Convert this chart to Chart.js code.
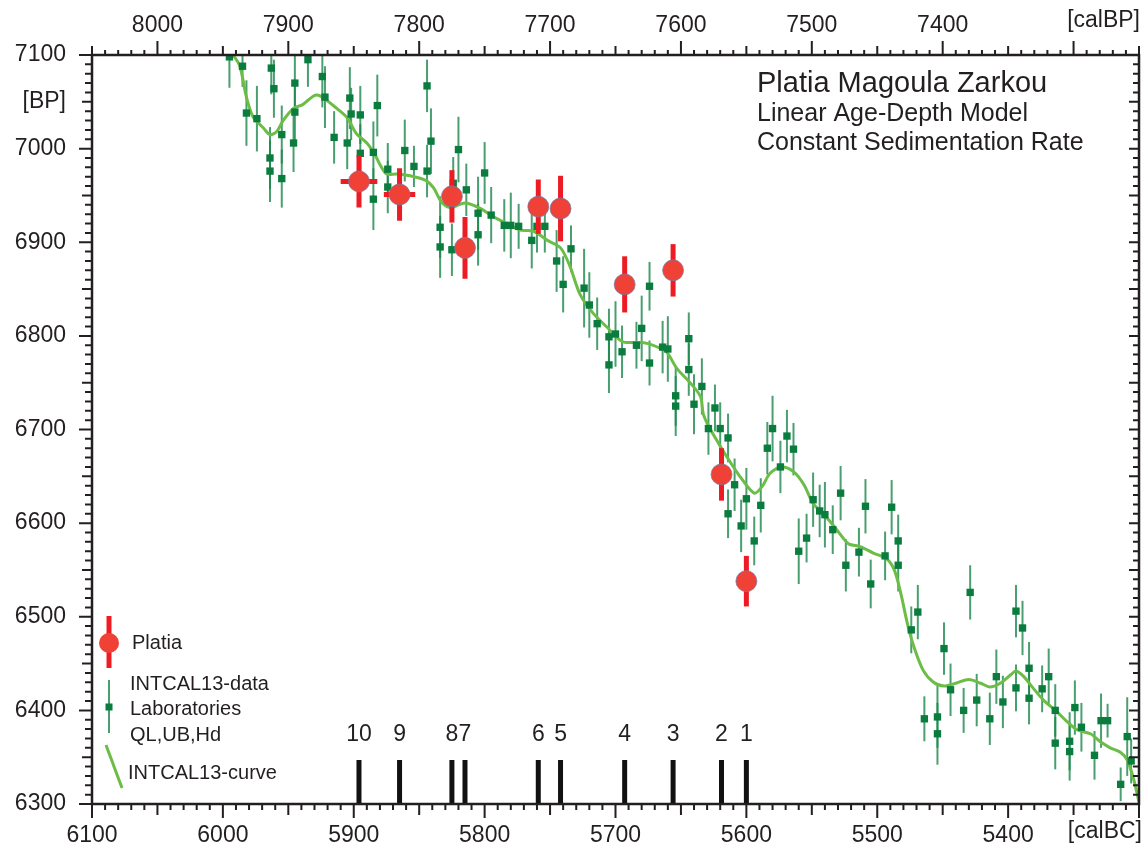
<!DOCTYPE html>
<html>
<head>
<meta charset="utf-8">
<script src="https://cdn.jsdelivr.net/npm/chart.js@4.4.0/dist/chart.umd.min.js"></script>
<style>
html, body { margin: 0; padding: 0; background: #fff; }
</style>
</head>
<body>
<canvas id="chart" width="1146" height="848"></canvas>
<script>
'use strict';

// INTCAL13 laboratory data: calBC, BP, error (BP)
const labYear = [
    5995,5985,5982,5974,5963,5961,5964,5964,5955,5955,
    5945,5945,5946,5935,5924,5922,5915,5903,5902,5905,
    5895,5895,5882,5885,5885,5874,5874,5861,5854,5844,
    5844,5841,5820,5824,5814,5834,5834,5825,5800,5805,
    5805,5795,5785,5780,5774,5764,5760,5754,5745,5740,
    5734,5724,5720,5714,5705,5700,5705,5695,5684,5680,
    5674,5674,5664,5660,5644,5644,5654,5654,5640,5634,
    5624,5629,5620,5614,5609,5614,5604,5600,5594,5589,
    5584,5580,5574,5569,5564,5560,5554,5549,5544,5540,
    5534,5528,5524,5514,5509,5505,5494,5489,5484,5484,
    5474,5469,5449,5429,5444,5464,5454,5454,5434,5424,
    5414,5409,5404,5394,5389,5384,5384,5394,5374,5369,
    5364,5364,5353,5353,5349,5344,5334,5329,5324,5314,
    5309,5306
];
const labBP = [
    7098,7088,7038,7032,7086,7064,6990,6976,7015,6968,
    7070,7039,7006,7095,7077,7055,7012,7054,7037,7006,
    7036,6995,7046,6996,6946,6978,6959,6998,6981,6976,
    7067,7008,6999,6963,6956,6916,6895,6892,6974,6931,
    6908,6929,6918,6918,6917,6902,6917,6917,6880,6855,
    6893,6851,6833,6813,6799,6802,6769,6783,6790,6808,
    6853,6771,6788,6786,6797,6764,6736,6725,6727,6746,
    6723,6701,6701,6691,6641,6610,6597,6626,6581,6619,
    6680,6701,6660,6693,6679,6570,6584,6625,6613,6609,
    6593,6632,6555,6569,6618,6535,6565,6617,6581,6555,
    6486,6505,6466,6526,6422,6391,6393,6375,6400,6411,
    6391,6436,6409,6506,6488,6445,6413,6424,6423,6436,
    6400,6365,6367,6356,6403,6382,6352,6389,6389,6321,
    6372,6346
];
const labErr = [
    33,22,35,35,28,31,33,33,31,31,
    31,31,31,29,33,33,28,33,28,28,
    31,31,33,33,33,28,28,33,22,28,
    28,35,35,28,28,33,33,28,33,39,
    33,30,28,35,24,30,28,28,33,30,
    25,42,35,28,30,35,30,28,25,35,
    26,24,28,35,28,28,32,32,32,30,
    25,28,28,26,28,26,28,33,26,29,
    28,35,28,28,28,35,26,29,28,35,
    26,29,28,26,29,26,26,29,28,28,
    25,29,28,29,28,24,33,33,24,28,
    28,29,28,28,29,28,28,25,25,30,
    28,28,31,31,29,26,26,29,18,18,
    42,24
];

// INTCAL13 curve
const curveYear = [
    5992,5987,5982,5977,5969,5964,5959,5954,5946,5939,
    5931,5927,5921,5913,5905,5898,5890,5884,5880,5875,
    5867,5857,5845,5839,5833,5826,5820,5814,5803,5793,
    5783,5773,5763,5752,5742,5735,5727,5717,5707,5695,
    5684,5676,5666,5661,5653,5643,5635,5633,5629,5622,
    5615,5605,5594,5588,5582,5573,5564,5556,5549,5538,
    5531,5522,5513,5503,5493,5487,5482,5477,5472,5465,
    5457,5449,5440,5430,5421,5414,5406,5398,5394,5388,
    5381,5373,5363,5355,5347,5337,5330,5322,5314,5309,
    5304,5300
];
const curveBP = [
    7100,7088,7055,7034,7022,7015,7018,7030,7043,7047,
    7056,7057,7052,7043,7033,7016,7006,6994,6983,6973,
    6973,6971,6966,6958,6943,6937,6940,6942,6936,6927,
    6920,6913,6912,6902,6894,6875,6844,6824,6810,6794,
    6793,6792,6787,6783,6765,6750,6735,6717,6704,6687,
    6671,6650,6632,6639,6653,6660,6655,6641,6621,6605,
    6593,6578,6575,6568,6562,6550,6525,6493,6468,6443,
    6430,6426,6429,6433,6429,6425,6429,6438,6442,6436,
    6424,6411,6399,6388,6379,6375,6367,6360,6355,6347,
    6326,6302
];

// Platia samples
const sampleNo = ['10', '9', '8', '7', '6', '5', '4', '3', '2', '1'];
const platiaYear = [5896, 5865, 5825, 5815, 5759, 5742, 5693, 5656, 5619, 5600];
const platiaBP = [6965, 6951, 6949, 6894, 6938, 6936, 6855, 6870, 6652, 6538];
const platiaErr = [28, 28, 28, 33, 29, 35, 30, 28, 28, 27];
const platiaYearErr = [14, 12, 0, 0, 0, 0, 0, 0, 0, 0];

// tick labels
const bcTicks = [6100, 6000, 5900, 5800, 5700, 5600, 5500, 5400];
const bpTicks = [8000, 7900, 7800, 7700, 7600, 7500, 7400];
const yTicks = [6300, 6400, 6500, 6600, 6700, 6800, 6900, 7000, 7100];


const FONT = "'Liberation Sans', Arial, Helvetica, sans-serif";
const ink = '#231f20';


function toXY(xs, ys) {
    return xs.map((x, i) => ({x: x, y: ys[i]}));
}

function tickLen(v, big, mid, small) {
    if (v % 100 === 0) return big;
    if (v % 50 === 0) return mid;
    return small;
}

function fitH(h) {
    return s => {
	s.height = h;
	s.paddingLeft = 0;
	s.paddingRight = 0;
    };
}


const decor = {
    id: 'decor',
    beforeDatasetsDraw(chart) {
	const {ctx, chartArea: a, scales: {x, y}} = chart;
	ctx.save();
	ctx.beginPath();
	ctx.rect(a.left, a.top, a.right - a.left, a.bottom - a.top);
	ctx.clip();

	// lab error bars
	ctx.strokeStyle = 'rgba(28,135,75,0.8)';
	ctx.lineWidth = 2;
	labYear.forEach((yr, i) => {
	    const px = x.getPixelForValue(yr);
	    ctx.beginPath();
	    ctx.moveTo(px, y.getPixelForValue(labBP[i] - labErr[i]));
	    ctx.lineTo(px, y.getPixelForValue(labBP[i] + labErr[i]));
	    ctx.stroke();
	});

	// sample positions
	ctx.strokeStyle = '#111';
	ctx.lineWidth = 5;
	ctx.fillStyle = ink;
	ctx.font = '23px ' + FONT;
	ctx.textAlign = 'center';
	ctx.textBaseline = 'middle';
	platiaYear.forEach((yr, i) => {
	    const px = x.getPixelForValue(yr);
	    ctx.beginPath();
	    ctx.moveTo(px, y.getPixelForValue(6300));
	    ctx.lineTo(px, y.getPixelForValue(6347));
	    ctx.stroke();
	    ctx.fillText(sampleNo[i], px, y.getPixelForValue(6374));
	});
	ctx.restore();
    },
    beforeDatasetDraw(chart, args) {
	if (args.index !== 0) return;
	const {ctx, scales: {x, y}} = chart;
	ctx.save();
	ctx.strokeStyle = '#ed1c24';
	ctx.lineWidth = 5;
	platiaYear.forEach((yr, i) => {
	    const px = x.getPixelForValue(yr);
	    const py = y.getPixelForValue(platiaBP[i]);
	    ctx.beginPath();
	    ctx.moveTo(px, y.getPixelForValue(platiaBP[i] - platiaErr[i]));
	    ctx.lineTo(px, y.getPixelForValue(platiaBP[i] + platiaErr[i]));
	    if (platiaYearErr[i]) {
		ctx.moveTo(x.getPixelForValue(yr - platiaYearErr[i]), py);
		ctx.lineTo(x.getPixelForValue(yr + platiaYearErr[i]), py);
	    }
	    ctx.stroke();
	});
	ctx.restore();
    },
    afterDraw(chart) {
	const {ctx, chartArea: a, scales: {x, x2, y}} = chart;
	ctx.save();

	// frame
	ctx.strokeStyle = ink;
	ctx.lineWidth = 2.5;
	ctx.strokeRect(a.left, a.top, a.right - a.left, a.bottom - a.top);

	// tick marks
	ctx.lineWidth = 2;
	ctx.beginPath();
	for (let v = 5300; v <= 6100; v += 10) {
	    const px = x.getPixelForValue(v);
	    ctx.moveTo(px, a.bottom);
	    ctx.lineTo(px, a.bottom + tickLen(v, 14, 11, 6));
	}
	for (let v = 7250; v <= 8050; v += 10) {
	    const px = x2.getPixelForValue(v);
	    ctx.moveTo(px, a.top);
	    ctx.lineTo(px, a.top - tickLen(v, 14, 9, 5));
	}
	for (let v = 6300; v <= 7100; v += 10) {
	    const py = y.getPixelForValue(v);
	    ctx.moveTo(a.left, py);
	    ctx.lineTo(a.left - tickLen(v, 13, 10, 7), py);
	    ctx.moveTo(a.right, py);
	    ctx.lineTo(a.right - tickLen(v, 10, 10, 6), py);
	}
	ctx.stroke();

	// units
	ctx.fillStyle = ink;
	ctx.textBaseline = 'middle';
	ctx.textAlign = 'right';
	ctx.font = '23px ' + FONT;
	ctx.fillText('[calBC]', 1142, 832);
	ctx.fillText('[calBP]', 1140, 21);

	// title block
	ctx.textAlign = 'left';
	ctx.textBaseline = 'alphabetic';
	ctx.font = '29px ' + FONT;
	ctx.fillText('Platia Magoula Zarkou', 757, 92);
	ctx.font = '25px ' + FONT;
	ctx.fillText('Linear Age-Depth Model', 757, 121);
	ctx.fillText('Constant Sedimentation Rate', 757, 150);

	// legend
	ctx.strokeStyle = '#ed1c24';
	ctx.lineWidth = 5;
	ctx.beginPath();
	ctx.moveTo(109, 616);
	ctx.lineTo(109, 668);
	ctx.stroke();
	ctx.fillStyle = '#ef4136';
	ctx.beginPath();
	ctx.arc(109, 643, 10, 0, Math.PI * 2);
	ctx.fill();

	ctx.strokeStyle = 'rgba(28,135,75,0.8)';
	ctx.lineWidth = 2;
	ctx.beginPath();
	ctx.moveTo(109, 680);
	ctx.lineTo(109, 733);
	ctx.stroke();
	ctx.fillStyle = '#0a7c3e';
	ctx.fillRect(105.5, 703.5, 7, 7);

	ctx.strokeStyle = '#6cbd45';
	ctx.lineWidth = 3;
	ctx.beginPath();
	ctx.moveTo(106, 745);
	ctx.lineTo(122, 788);
	ctx.stroke();

	ctx.fillStyle = ink;
	ctx.textBaseline = 'middle';
	ctx.font = '20px ' + FONT;
	ctx.fillText('Platia', 132, 643);
	ctx.fillText('INTCAL13-data', 130, 684);
	ctx.fillText('Laboratories', 130, 709);
	ctx.fillText('QL,UB,Hd', 130, 735);
	ctx.fillText('INTCAL13-curve', 128, 773);

	ctx.restore();
    },
};


const chartConfig = {
    type: 'scatter',
    data: {
	datasets: [{
	    label: 'Platia',
	    data: toXY(platiaYear, platiaBP),
	    pointRadius: 10.5,
	    pointBackgroundColor: '#ef4136',
	    pointBorderColor: 'rgba(110,125,170,0.7)',
	    pointBorderWidth: 1,
	    order: 0,
	}, {
	    label: 'INTCAL13-curve',
	    data: toXY(curveYear, curveBP),
	    showLine: true,
	    borderColor: '#6cbd45',
	    borderWidth: 3,
	    pointRadius: 0,
	    tension: 0.3,
	    order: 2,
	}, {
	    label: 'INTCAL13-data',
	    data: toXY(labYear, labBP),
	    pointStyle: 'rect',
	    pointRadius: 5.2,
	    pointBackgroundColor: '#0a7c3e',
	    pointBorderWidth: 0,
	    order: 1,
	}],
    },
    options: {
	responsive: false,
	animation: false,
	devicePixelRatio: 1,
	layout: {autoPadding: false, padding: {left: 0, right: 7, top: 0, bottom: 0}},
	plugins: {
	    legend: {display: false},
	    tooltip: {enabled: false},
	},
	scales: {
	    x: {
		type: 'linear',
		position: 'bottom',
		min: 5300,
		max: 6100,
		reverse: true,
		afterFit: fitH(44),
		grid: {display: false, drawTicks: false},
		border: {display: false},
		ticks: {
		    stepSize: 100,
		    autoSkip: false,
		    maxRotation: 0,
		    padding: 18,
		    color: ink,
		    font: {family: FONT, size: 23},
		    callback: v => bcTicks.includes(v) ? String(v) : '',
		},
	    },
	    x2: {
		type: 'linear',
		axis: 'x',
		position: 'top',
		min: 7250,
		max: 8050,
		reverse: true,
		afterFit: fitH(55),
		grid: {display: false, drawTicks: false},
		border: {display: false},
		ticks: {
		    stepSize: 50,
		    autoSkip: false,
		    maxRotation: 0,
		    padding: 16,
		    color: ink,
		    font: {family: FONT, size: 23},
		    callback: v => bpTicks.includes(v) ? String(v) : '',
		},
	    },
	    y: {
		type: 'linear',
		position: 'left',
		min: 6300,
		max: 7100,
		afterFit: s => { s.width = 92; },
		grid: {display: false, drawTicks: false},
		border: {display: false},
		ticks: {
		    stepSize: 50,
		    autoSkip: false,
		    padding: 26,
		    color: ink,
		    font: {family: FONT, size: 23},
		    callback: v => yTicks.includes(v) ? String(v) : (v === 7050 ? '[BP]' : ''),
		},
	    },
	},
    },
    plugins: [decor],
};

const chart = new Chart(document.querySelector('#chart'), chartConfig);
</script>
</body>
</html>
